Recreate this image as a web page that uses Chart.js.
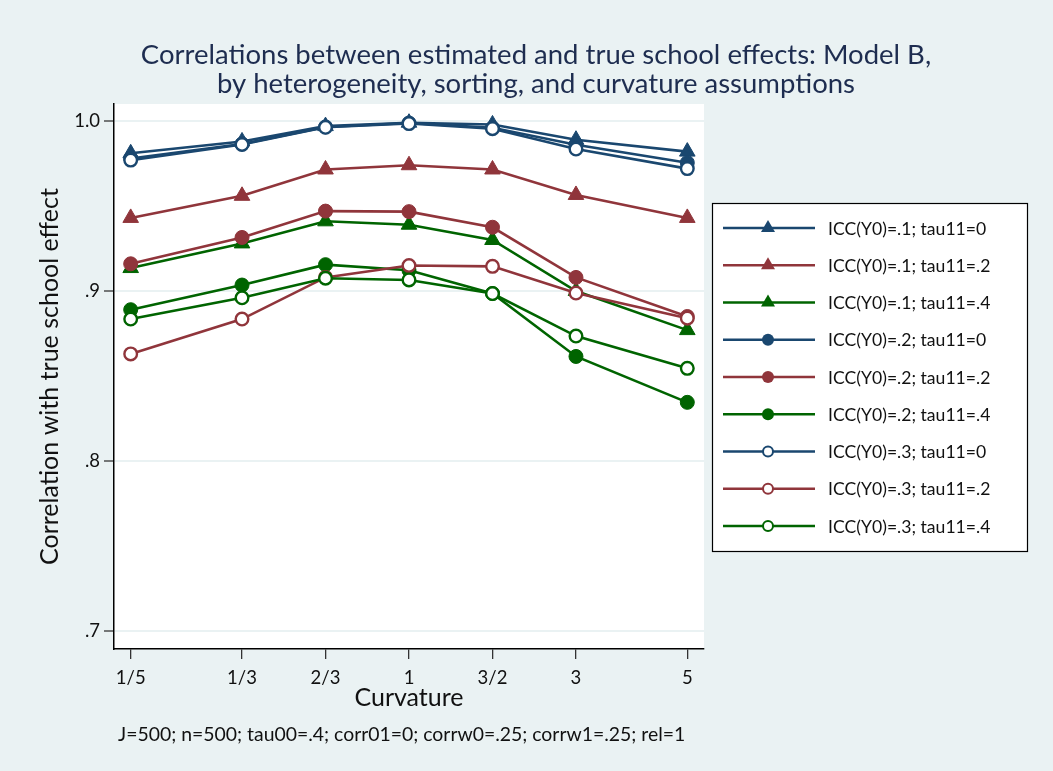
<!DOCTYPE html>
<html>
<head>
<meta charset="utf-8">
<script src="https://cdn.jsdelivr.net/npm/chart.js@4"></script>
<style>
  html, body { margin: 0; padding: 0; background: #eaf2f3; }
  #wrap { width: 1053px; height: 771px; }
</style>
</head>
<body>
<div id="wrap"><canvas id="canvas" width="1053" height="771"></canvas></div>
<script>
// curvature categories and where they sit on the x axis
let curvLabels = ['1/5', '1/3', '2/3', '1', '3/2', '3', '5'];
let curvPos = [-10, -6, -3, 0, 3, 6, 10];

// y axis ticks
let yTicks = [0.7, 0.8, 0.9, 1.0];
let yTickLabels = ['.7', '.8', '.9', '1.0'];

// correlations, one list per ICC(Y0) / tau11 combination
let icc1tau0 = [0.981, 0.988, 0.997, 0.999, 0.998, 0.989, 0.982];
let icc1tau2 = [0.943, 0.956, 0.9715, 0.974, 0.9715, 0.9565, 0.943];
let icc1tau4 = [0.9135, 0.928, 0.941, 0.939, 0.930, 0.900, 0.877];
let icc2tau0 = [0.978, 0.9865, 0.9965, 0.9988, 0.996, 0.986, 0.9755];
let icc2tau2 = [0.916, 0.9315, 0.947, 0.9467, 0.9375, 0.908, 0.885];
let icc2tau4 = [0.889, 0.9035, 0.9155, 0.9122, 0.8985, 0.8615, 0.8345];
let icc3tau0 = [0.977, 0.9862, 0.9963, 0.9985, 0.9955, 0.9835, 0.972];
let icc3tau2 = [0.863, 0.8835, 0.908, 0.915, 0.9145, 0.8988, 0.884];
let icc3tau4 = [0.8835, 0.896, 0.9075, 0.9065, 0.8985, 0.8735, 0.8545];

let seriesNames = [
  'ICC(Y0)=.1; tau11=0', 'ICC(Y0)=.1; tau11=.2', 'ICC(Y0)=.1; tau11=.4',
  'ICC(Y0)=.2; tau11=0', 'ICC(Y0)=.2; tau11=.2', 'ICC(Y0)=.2; tau11=.4',
  'ICC(Y0)=.3; tau11=0', 'ICC(Y0)=.3; tau11=.2', 'ICC(Y0)=.3; tau11=.4'
];
let seriesValues = [icc1tau0, icc1tau2, icc1tau4, icc2tau0, icc2tau2, icc2tau4, icc3tau0, icc3tau2, icc3tau4];

let titleLines = [
  'Correlations between estimated and true school effects: Model B,',
  'by heterogeneity, sorting, and curvature assumptions'
];
let note = 'J=500; n=500; tau00=.4; corr01=0; corrw0=.25; corrw1=.25; rel=1';

// stata s2color-ish palette
let navy = '#1a476f';
let maroon = '#90353b';
let green = '#006400';
let colors = [navy, maroon, green];
let FONT = 'Lato, "Open Sans", sans-serif';

// build datasets: colour follows tau11, marker follows ICC
let datasets = seriesValues.map((vals, i) => {
  let col = colors[i % 3];
  let kind = Math.floor(i / 3); // 0 triangle, 1 filled circle, 2 hollow circle
  return {
    label: seriesNames[i],
    data: vals.map((v, j) => ({ x: curvPos[j], y: v })),
    borderColor: col,
    borderWidth: 2.6,
    pointStyle: kind === 0 ? 'triangle' : 'circle',
    pointRadius: kind === 0 ? 9 : (kind === 1 ? 7 : 6.3),
    pointBorderWidth: kind === 2 ? 2.4 : 1,
    pointBackgroundColor: kind === 2 ? '#ffffff' : col,
    pointBorderColor: col,
    order: -i,
    kind: kind
  };
});

// white plot region
let plotBg = {
  id: 'plotBg',
  beforeDraw(chart) {
    let a = chart.chartArea, ctx = chart.ctx;
    ctx.save();
    ctx.fillStyle = '#ffffff';
    ctx.fillRect(a.left, a.top, a.right - a.left, a.bottom - a.top);
    ctx.restore();
  }
};

// boxed legend on the right plus the note under the axis
let extras = {
  id: 'extras',
  afterDraw(chart) {
    let ctx = chart.ctx;
    ctx.save();
    // legend box
    let bx = 712, by = 203, bw = 315, bh = 348;
    ctx.fillStyle = '#ffffff';
    ctx.fillRect(bx, by, bw, bh);
    ctx.strokeStyle = '#000000';
    ctx.lineWidth = 1.2;
    ctx.strokeRect(bx + 0.5, by + 0.5, bw, bh);
    chart.data.datasets.forEach((ds, i) => {
      let y = 228 + i * 37.25;
      ctx.strokeStyle = ds.borderColor;
      ctx.lineWidth = 2.6;
      ctx.beginPath();
      ctx.moveTo(723, y);
      ctx.lineTo(815, y);
      ctx.stroke();
      ctx.fillStyle = ds.borderColor;
      if (ds.kind === 0) {
        ctx.beginPath();
        ctx.moveTo(768, y - 8);
        ctx.lineTo(775, y + 4);
        ctx.lineTo(761, y + 4);
        ctx.closePath();
        ctx.fill();
      } else {
        ctx.beginPath();
        ctx.arc(768, y, ds.kind === 1 ? 6 : 5, 0, Math.PI * 2);
        if (ds.kind === 1) {
          ctx.fill();
        } else {
          ctx.fillStyle = '#ffffff';
          ctx.fill();
          ctx.lineWidth = 2;
          ctx.stroke();
        }
      }
      ctx.fillStyle = '#111111';
      ctx.font = '17.6px ' + FONT;
      ctx.textBaseline = 'middle';
      ctx.textAlign = 'left';
      ctx.fillText(ds.label, 828, y + 1);
    });
    // note
    ctx.font = '19.4px ' + FONT;
    ctx.fillStyle = '#111111';
    ctx.textBaseline = 'middle';
    ctx.fillText(note, 118, 735);
    ctx.restore();
  }
};

let options = {
  type: 'line',
  data: { datasets: datasets },
  options: {
    responsive: false,
    animation: false,
    layout: { padding: { left: 19, right: 0, top: 0, bottom: 0 } },
    plugins: {
      legend: { display: false },
      tooltip: { enabled: false },
      title: {
        display: true,
        text: titleLines,
        color: '#1e2d50',
        font: { family: FONT, size: 27.5, weight: 'normal', lineHeight: 1.055 },
        padding: { top: 40.5, bottom: 5.5 }
      }
    },
    scales: {
      x: {
        type: 'linear',
        min: -10.6,
        max: 10.6,
        afterBuildTicks(axis) { axis.ticks = curvPos.map(v => ({ value: v })); },
        afterFit(axis) { axis.height = 122; },
        ticks: {
          callback: (v) => curvLabels[curvPos.indexOf(v)],
          color: '#111111',
          font: { family: FONT, size: 18.5 },
          padding: 8,
          maxRotation: 0,
          autoSkip: false
        },
        grid: { drawOnChartArea: false, drawTicks: true, tickLength: 10, color: '#333333', lineWidth: 1.3 },
        border: { display: true, color: '#000000', width: 1.5 },
        title: {
          display: true,
          text: 'Curvature',
          color: '#111111',
          font: { family: FONT, size: 25, lineHeight: 1.2 },
          padding: { top: 0, bottom: 58 }
        }
      },
      y: {
        min: 0.6894,
        max: 1.01,
        afterBuildTicks(axis) { axis.ticks = yTicks.map(v => ({ value: v })); },
        afterFit(axis) { axis.width = 95; },
        ticks: {
          callback: (v) => yTickLabels[yTicks.indexOf(v)],
          color: '#111111',
          font: { family: FONT, size: 18.5 },
          padding: 4
        },
        grid: { color: '#eaf2f3', lineWidth: 2, tickLength: 10, tickColor: '#333333', tickWidth: 1.3 },
        border: { display: true, color: '#000000', width: 1.5 },
        title: {
          display: true,
          text: 'Correlation with true school effect',
          color: '#111111',
          font: { family: FONT, size: 25, lineHeight: 1.2 },
          padding: { top: 16, bottom: 0 }
        }
      },
      // empty axis that keeps room for the legend box on the right
      yRight: {
        position: 'right',
        display: true,
        afterFit(axis) { axis.width = 349; },
        ticks: { display: false },
        grid: { display: false },
        border: { display: false }
      }
    }
  },
  plugins: [plotBg, extras]
};

let chart = new Chart(document.getElementById('canvas'), options);
</script>
</body>
</html>
